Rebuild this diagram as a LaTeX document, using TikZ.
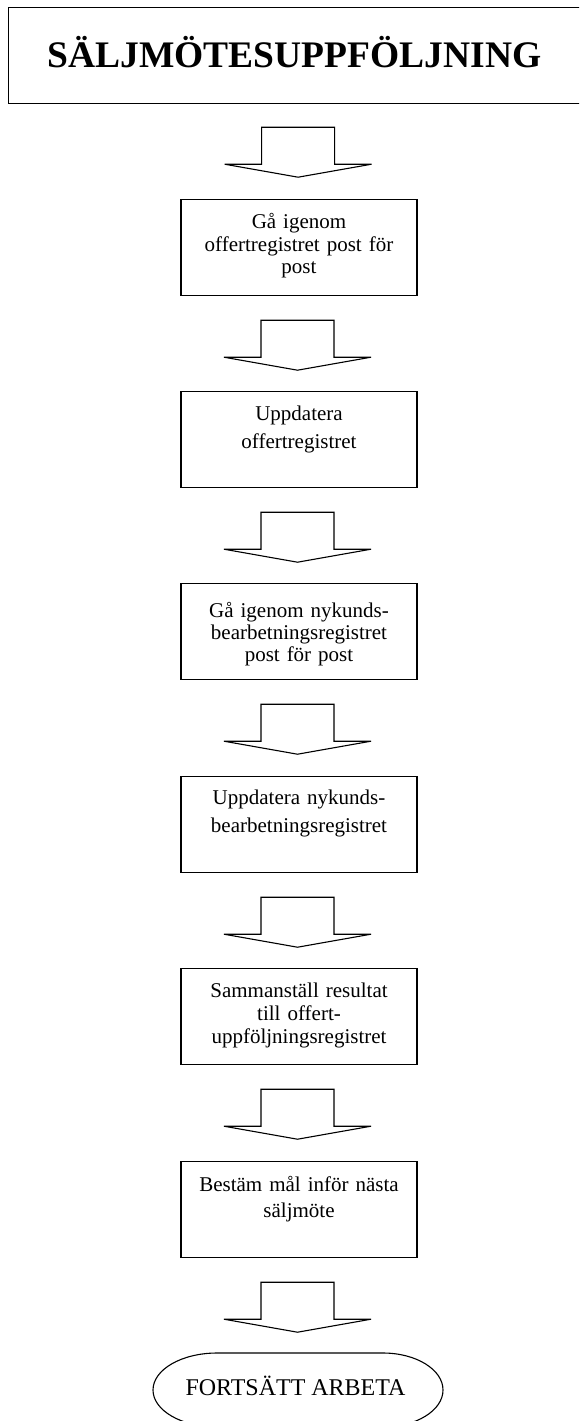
\documentclass[tikz,border=0pt]{standalone}
\usepackage{fontspec}
\setmainfont{Liberation Serif}
\usepackage{tikz}
\usetikzlibrary{calc}
\tikzset{
  hd/.style={draw=black,line width=1.2pt,text width=582pt,inner sep=0pt,align=left,anchor=north west,
    text height=60pt,text depth=36pt,font=\fontsize{37.5}{40}\selectfont\bfseries},
  stepbox/.style={draw=black,line width=1.2pt,text width=236pt,inner sep=0pt,align=center,anchor=north,
    font=\fontsize{21}{#1}\selectfont},
  endtxt/.style={inner sep=0pt,anchor=base,font=\fontsize{24}{26}\selectfont},
  barrow/.pic={\draw[line width=1.1pt,line join=miter]
    (-36.5,0) -- (-36.5,37) -- (-73.5,37) -- (0,50) -- (73.5,37) -- (36.5,37) -- (36.5,0) -- cycle;}
}

\begin{document}
\begin{tikzpicture}[x=1pt,y=-1pt]
\useasboundingbox (0,0) rectangle (579,1421);
\clip (0,0) rectangle (579,1421);
\node[hd] (title) at (8,7) {\hspace*{39pt}SÄLJMÖTESUPPFÖLJNING};
% steps, top / first baseline / line skip / text
\foreach \ty/\ofs/\lsk/\txt [count=\i] in {
  199/29/22.5/{Gå igenom\\offertregistret post för\\post},
  391/29/28/{Uppdatera\\offertregistret},
  583/34/22/{Gå igenom nykunds-\\bearbetningsregistret\\post för post},
  776/28/28/{Uppdatera nykunds-\\bearbetningsregistret},
  968/29/23/{Sammanställ resultat\\till offert-\\uppföljningsregistret},
  1161/30/26/{Bestäm mål inför nästa\\säljmöte}}{
 \pgfmathsetmacro\dep{96-\ofs}
 \node[stepbox=\lsk,text height=\ofs pt,text depth=\dep pt] (b\i) at (299,\ty) {\txt};
}
\pic at ($(title.south)+(-1.5,23)$) {barrow};
\foreach \i in {1,...,6}
 \pic at ($(b\i.south)+(-1.5,24)$) {barrow};
% end
\node[endtxt] (fin) at (295.5,1395) {FORTSÄTT ARBETA};
\draw[line width=1.1pt] (217,1353) -- (383,1353)
  arc[start angle=-90,end angle=90,x radius=60,y radius=37] -- (217,1427)
  arc[start angle=90,end angle=270,x radius=64,y radius=37] -- cycle;
\end{tikzpicture}
\end{document}
